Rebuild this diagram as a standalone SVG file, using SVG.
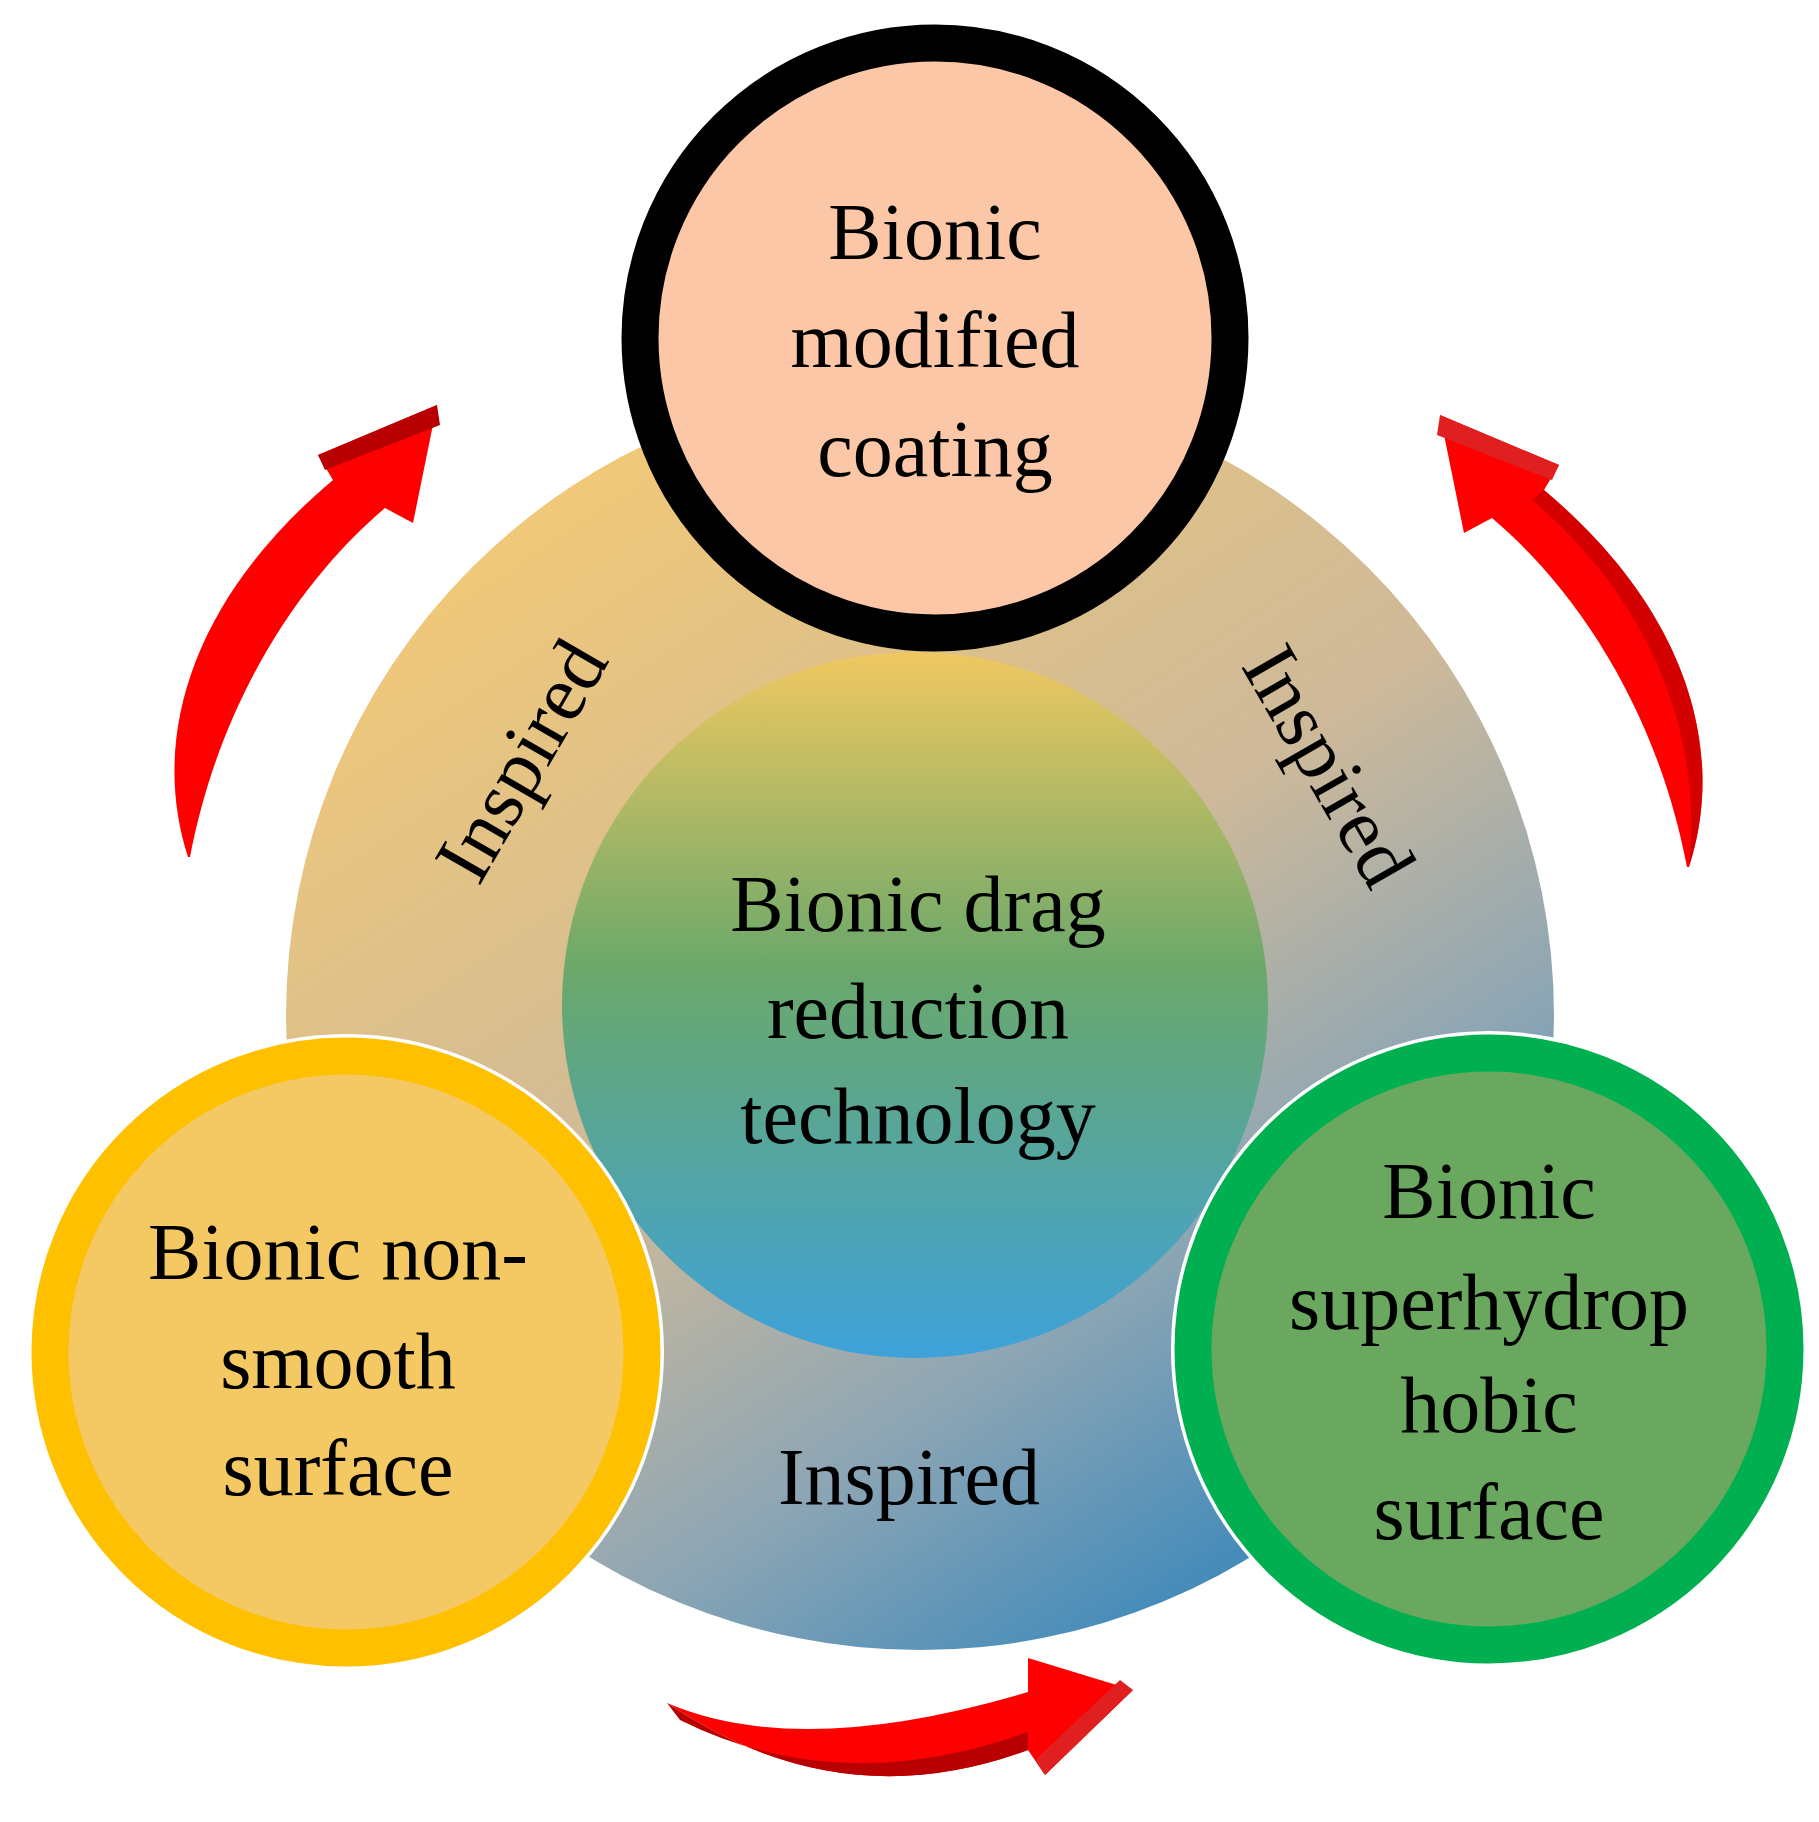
<svg xmlns="http://www.w3.org/2000/svg" width="1819" height="1822" viewBox="0 0 1819 1822">
<style>
.t{font-family:"Liberation Serif","Times New Roman",serif;font-size:80px;fill:#000;text-anchor:middle}
.red{fill:#FF0000}
.dark{fill:#B80000}
</style>
<defs>
<linearGradient id="ring" x1="0.2" y1="0.1" x2="0.8" y2="1">
<stop offset="0" stop-color="#F0C878"/>
<stop offset="0.45" stop-color="#CDB99A"/>
<stop offset="0.7" stop-color="#8EA6B4"/>
<stop offset="1" stop-color="#2A82BC"/>
</linearGradient>
<linearGradient id="inner" x1="0" y1="0" x2="0" y2="1">
<stop offset="0" stop-color="#F0C860"/>
<stop offset="0.45" stop-color="#6AA86A"/>
<stop offset="1" stop-color="#3EA2DA"/>
</linearGradient>
</defs>
<rect width="1819" height="1822" fill="#FFFFFF"/>
<g id="ring-bg"><circle cx="920" cy="1016" r="634" fill="url(#ring)"/></g>
<g id="center"><circle cx="915" cy="1005" r="353" fill="url(#inner)"/>
<text class="t" x="918" y="931">Bionic drag</text>
<text class="t" x="918" y="1038">reduction</text>
<text class="t" x="918" y="1143">technology</text></g>
<g id="labels">
<text class="t" transform="translate(520,760) rotate(-60)" y="28">Inspired</text>
<text class="t" transform="translate(1330,765) rotate(60)" y="28">Inspired</text>
<text class="t" x="909" y="1504">Inspired</text>
</g>
<g id="top"><circle cx="935" cy="338" r="295" fill="#FBC7A7" stroke="#000" stroke-width="37"/>
<text class="t" x="935" y="259">Bionic</text>
<text class="t" x="935" y="367">modified</text>
<text class="t" x="935" y="476">coating</text></g>
<g id="left"><circle cx="346" cy="1352" r="318" fill="#fff"/><circle cx="346" cy="1352" r="296" fill="#F4C862" stroke="#FFC000" stroke-width="37"/>
<text class="t" x="338" y="1279">Bionic non-</text>
<text class="t" x="338" y="1388">smooth</text>
<text class="t" x="338" y="1495">surface</text></g>
<g id="right"><circle cx="1489" cy="1349" r="318" fill="#fff"/><circle cx="1489" cy="1349" r="296" fill="#6AA860" stroke="#00B050" stroke-width="37"/>
<text class="t" x="1489" y="1218">Bionic</text>
<text class="t" x="1489" y="1329">superhydrop</text>
<text class="t" x="1489" y="1432">hobic</text>
<text class="t" x="1489" y="1539">surface</text></g>
<g id="connectors">
<g id="arrow-left">
<path class="red" d="M188,857 C150,740 190,600 333,480 L318,455 L437,405 L413,523 L385,508 C300,580 220,700 190,857 Z"/>
<path class="dark" d="M318,455 L437,405 L440,425 L325,470 Z"/>
</g>
<g id="arrow-right" transform="translate(1877,10) scale(-1,1)">
<path class="red" d="M188,857 C150,740 190,600 333,480 L318,455 L437,405 L413,523 L385,508 C300,580 220,700 190,857 Z"/>
<path fill="#E02020" d="M318,455 L437,405 L440,425 L325,470 Z"/>
<path class="dark" d="M188,857 C150,740 190,600 333,480 L345,490 C215,600 175,740 188,857 Z" opacity="0.6"/>
</g>
<g id="arrow-bottom">
<path class="red" d="M667,1703 Q800,1760 1028,1692 L1028,1658 L1133,1690 L1045,1775 L1028,1750 Q840,1820 667,1703 Z"/>
<path class="dark" d="M667,1703 Q840,1820 1028,1750 L1028,1732 Q840,1800 680,1720 Z"/>
<path fill="#E02020" d="M1133,1690 L1045,1775 L1035,1760 L1120,1680 Z"/>
</g>
</g>
</svg>
